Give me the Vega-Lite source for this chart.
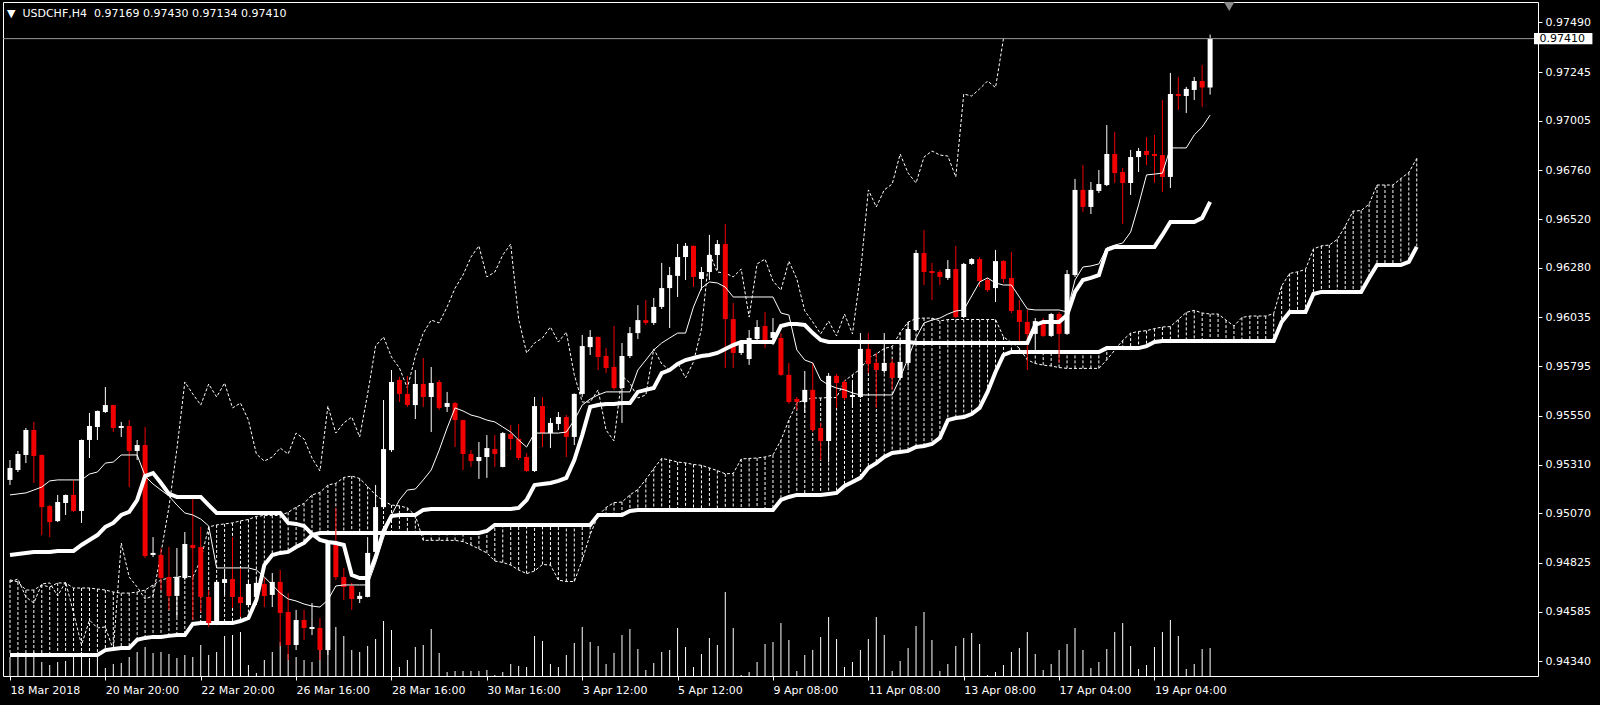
{
  "$schema": "https://vega.github.io/schema/vega-lite/v6.json",
  "width": 1535,
  "height": 674,
  "autosize": "none",
  "padding": {"left": 3, "top": 2, "right": 62, "bottom": 29},
  "background": "#000000",
  "title": {
    "text": "▼\u00a0\u00a0USDCHF,H4\u00a0\u00a00.97169 0.97430 0.97134 0.97410",
    "anchor": "start",
    "orient": "top",
    "offset": -17,
    "dx": 5,
    "color": "#ffffff",
    "font": "DejaVu Sans",
    "fontSize": 11,
    "fontWeight": "normal"
  },
  "config": {
    "view": {"stroke": "#ffffff", "strokeWidth": 1, "fill": "#000000"},
    "axis": {
      "grid": false,
      "domain": false,
      "labelColor": "#ffffff",
      "tickColor": "#ffffff",
      "labelFont": "DejaVu Sans",
      "labelFontSize": 11,
      "labelOverlap": false,
      "tickSize": 4
    }
  },
  "datasets": {
    "bars": [
      {"i":0,"o":0.95234,"h":0.95332,"l":0.95209,"c":0.95293,"v":1900,"t":0.95160,"k":0.94864},
      {"i":1,"o":0.95283,"h":0.95377,"l":0.95273,"c":0.95362,"v":1900,"t":0.95165,"k":0.94869},
      {"i":2,"o":0.95357,"h":0.95490,"l":0.95317,"c":0.95480,"v":1900,"t":0.95170,"k":0.94874},
      {"i":3,"o":0.95480,"h":0.95520,"l":0.95219,"c":0.95352,"v":2400,"t":0.95184,"k":0.94879},
      {"i":4,"o":0.95357,"h":0.95360,"l":0.94962,"c":0.95100,"v":1400,"t":0.95199,"k":0.94879},
      {"i":5,"o":0.95105,"h":0.95110,"l":0.94952,"c":0.95026,"v":1100,"t":0.95229,"k":0.94879},
      {"i":6,"o":0.95031,"h":0.95160,"l":0.95026,"c":0.95125,"v":1400,"t":0.95234,"k":0.94884},
      {"i":7,"o":0.95120,"h":0.95162,"l":0.95061,"c":0.95160,"v":1500,"t":0.95234,"k":0.94884},
      {"i":8,"o":0.95160,"h":0.95234,"l":0.95076,"c":0.95081,"v":2200,"t":0.95234,"k":0.94884},
      {"i":9,"o":0.95081,"h":0.95433,"l":0.95022,"c":0.95431,"v":2400,"t":0.95234,"k":0.94913},
      {"i":10,"o":0.95431,"h":0.95564,"l":0.95342,"c":0.95500,"v":1800,"t":0.95263,"k":0.94938},
      {"i":11,"o":0.95495,"h":0.95576,"l":0.95431,"c":0.95574,"v":2000,"t":0.95273,"k":0.94962},
      {"i":12,"o":0.95569,"h":0.95692,"l":0.95564,"c":0.95603,"v":800,"t":0.95317,"k":0.95002},
      {"i":13,"o":0.95603,"h":0.95605,"l":0.95470,"c":0.95490,"v":1200,"t":0.95322,"k":0.95022},
      {"i":14,"o":0.95490,"h":0.95520,"l":0.95446,"c":0.95500,"v":1300,"t":0.95357,"k":0.95061},
      {"i":15,"o":0.95500,"h":0.95529,"l":0.95199,"c":0.95377,"v":1900,"t":0.95357,"k":0.95076},
      {"i":16,"o":0.95377,"h":0.95431,"l":0.95332,"c":0.95406,"v":2400,"t":0.95357,"k":0.95135},
      {"i":17,"o":0.95406,"h":0.95495,"l":0.94849,"c":0.94859,"v":2900,"t":0.95253,"k":0.95253},
      {"i":18,"o":0.94864,"h":0.94952,"l":0.94854,"c":0.94874,"v":2300,"t":0.95214,"k":0.95268},
      {"i":19,"o":0.94864,"h":0.94898,"l":0.94691,"c":0.94750,"v":2400,"t":0.95184,"k":0.95219},
      {"i":20,"o":0.94755,"h":0.94903,"l":0.94593,"c":0.94662,"v":2200,"t":0.95155,"k":0.95165},
      {"i":21,"o":0.94662,"h":0.94898,"l":0.94558,"c":0.94755,"v":1800,"t":0.95110,"k":0.95150},
      {"i":22,"o":0.94750,"h":0.94977,"l":0.94741,"c":0.94918,"v":2100,"t":0.95071,"k":0.95150},
      {"i":23,"o":0.94913,"h":0.95150,"l":0.94543,"c":0.94898,"v":1900,"t":0.95061,"k":0.95150},
      {"i":24,"o":0.94903,"h":0.95002,"l":0.94583,"c":0.94657,"v":3100,"t":0.95041,"k":0.95150},
      {"i":25,"o":0.94657,"h":0.94691,"l":0.94509,"c":0.94528,"v":2100,"t":0.95007,"k":0.95110},
      {"i":26,"o":0.94533,"h":0.94741,"l":0.94518,"c":0.94731,"v":2400,"t":0.94800,"k":0.95071},
      {"i":27,"o":0.94726,"h":0.94790,"l":0.94667,"c":0.94745,"v":4000,"t":0.94800,"k":0.95071},
      {"i":28,"o":0.94745,"h":0.94952,"l":0.94602,"c":0.94657,"v":4100,"t":0.94800,"k":0.95071},
      {"i":29,"o":0.94657,"h":0.94800,"l":0.94558,"c":0.94627,"v":4400,"t":0.94800,"k":0.95071},
      {"i":30,"o":0.94617,"h":0.94741,"l":0.94607,"c":0.94721,"v":1100,"t":0.94800,"k":0.95071},
      {"i":31,"o":0.94657,"h":0.94755,"l":0.94617,"c":0.94726,"v":300,"t":0.94790,"k":0.95071},
      {"i":32,"o":0.94721,"h":0.94750,"l":0.94607,"c":0.94662,"v":1600,"t":0.94755,"k":0.95071},
      {"i":33,"o":0.94667,"h":0.94775,"l":0.94607,"c":0.94731,"v":2400,"t":0.94716,"k":0.95071},
      {"i":34,"o":0.94731,"h":0.94790,"l":0.94415,"c":0.94578,"v":3400,"t":0.94676,"k":0.95071},
      {"i":35,"o":0.94583,"h":0.94676,"l":0.94346,"c":0.94420,"v":2200,"t":0.94647,"k":0.95022},
      {"i":36,"o":0.94420,"h":0.94593,"l":0.94395,"c":0.94543,"v":1900,"t":0.94637,"k":0.95017},
      {"i":37,"o":0.94543,"h":0.94593,"l":0.94445,"c":0.94504,"v":1600,"t":0.94622,"k":0.95007},
      {"i":38,"o":0.94499,"h":0.94627,"l":0.94469,"c":0.94509,"v":1400,"t":0.94612,"k":0.94967},
      {"i":39,"o":0.94504,"h":0.94553,"l":0.94346,"c":0.94395,"v":3300,"t":0.94607,"k":0.94938},
      {"i":40,"o":0.94395,"h":0.94926,"l":0.94371,"c":0.94923,"v":5100,"t":0.94642,"k":0.94928},
      {"i":41,"o":0.94923,"h":0.95096,"l":0.94741,"c":0.94755,"v":4900,"t":0.94711,"k":0.94923},
      {"i":42,"o":0.94755,"h":0.94800,"l":0.94642,"c":0.94706,"v":4000,"t":0.94716,"k":0.94913},
      {"i":43,"o":0.94711,"h":0.94726,"l":0.94593,"c":0.94647,"v":2600,"t":0.94716,"k":0.94765},
      {"i":44,"o":0.94647,"h":0.94681,"l":0.94627,"c":0.94662,"v":2400,"t":0.94716,"k":0.94750},
      {"i":45,"o":0.94657,"h":0.94952,"l":0.94655,"c":0.94874,"v":3000,"t":0.94716,"k":0.94750},
      {"i":46,"o":0.94879,"h":0.95209,"l":0.94864,"c":0.95100,"v":3700,"t":0.94824,"k":0.94854},
      {"i":47,"o":0.95100,"h":0.95628,"l":0.95096,"c":0.95386,"v":5500,"t":0.94948,"k":0.94982},
      {"i":48,"o":0.95381,"h":0.95776,"l":0.95372,"c":0.95717,"v":4600,"t":0.95061,"k":0.95056},
      {"i":49,"o":0.95727,"h":0.95742,"l":0.95618,"c":0.95658,"v":900,"t":0.95135,"k":0.95061},
      {"i":50,"o":0.95658,"h":0.95747,"l":0.95594,"c":0.95603,"v":1600,"t":0.95184,"k":0.95061},
      {"i":51,"o":0.95603,"h":0.95776,"l":0.95534,"c":0.95707,"v":2900,"t":0.95189,"k":0.95061},
      {"i":52,"o":0.95707,"h":0.95835,"l":0.95594,"c":0.95643,"v":3100,"t":0.95234,"k":0.95086},
      {"i":53,"o":0.95643,"h":0.95791,"l":0.95470,"c":0.95712,"v":4700,"t":0.95283,"k":0.95091},
      {"i":54,"o":0.95717,"h":0.95727,"l":0.95579,"c":0.95589,"v":2300,"t":0.95381,"k":0.95091},
      {"i":55,"o":0.95594,"h":0.95668,"l":0.95569,"c":0.95613,"v":400,"t":0.95490,"k":0.95091},
      {"i":56,"o":0.95613,"h":0.95618,"l":0.95396,"c":0.95529,"v":500,"t":0.95589,"k":0.95091},
      {"i":57,"o":0.95529,"h":0.95531,"l":0.95283,"c":0.95362,"v":500,"t":0.95574,"k":0.95091},
      {"i":58,"o":0.95362,"h":0.95381,"l":0.95298,"c":0.95327,"v":500,"t":0.95554,"k":0.95091},
      {"i":59,"o":0.95327,"h":0.95421,"l":0.95239,"c":0.95347,"v":500,"t":0.95544,"k":0.95091},
      {"i":60,"o":0.95347,"h":0.95455,"l":0.95244,"c":0.95391,"v":600,"t":0.95529,"k":0.95091},
      {"i":61,"o":0.95386,"h":0.95455,"l":0.95298,"c":0.95362,"v":100,"t":0.95520,"k":0.95091},
      {"i":62,"o":0.95298,"h":0.95470,"l":0.95296,"c":0.95465,"v":400,"t":0.95495,"k":0.95091},
      {"i":63,"o":0.95460,"h":0.95505,"l":0.95381,"c":0.95436,"v":1200,"t":0.95470,"k":0.95091},
      {"i":64,"o":0.95436,"h":0.95510,"l":0.95332,"c":0.95342,"v":1000,"t":0.95431,"k":0.95096},
      {"i":65,"o":0.95347,"h":0.95367,"l":0.95273,"c":0.95278,"v":900,"t":0.95396,"k":0.95135},
      {"i":66,"o":0.95278,"h":0.95643,"l":0.95273,"c":0.95598,"v":4000,"t":0.95465,"k":0.95209},
      {"i":67,"o":0.95598,"h":0.95643,"l":0.95396,"c":0.95465,"v":3500,"t":0.95465,"k":0.95214},
      {"i":68,"o":0.95465,"h":0.95539,"l":0.95391,"c":0.95515,"v":1200,"t":0.95465,"k":0.95219},
      {"i":69,"o":0.95510,"h":0.95569,"l":0.95480,"c":0.95544,"v":900,"t":0.95465,"k":0.95229},
      {"i":70,"o":0.95544,"h":0.95554,"l":0.95347,"c":0.95446,"v":2100,"t":0.95470,"k":0.95244},
      {"i":71,"o":0.95446,"h":0.95660,"l":0.95406,"c":0.95658,"v":3300,"t":0.95529,"k":0.95332},
      {"i":72,"o":0.95658,"h":0.95949,"l":0.95643,"c":0.95894,"v":4900,"t":0.95603,"k":0.95455},
      {"i":73,"o":0.95889,"h":0.95973,"l":0.95850,"c":0.95939,"v":3400,"t":0.95633,"k":0.95594},
      {"i":74,"o":0.95939,"h":0.95941,"l":0.95776,"c":0.95840,"v":3000,"t":0.95653,"k":0.95603},
      {"i":75,"o":0.95845,"h":0.95884,"l":0.95761,"c":0.95786,"v":1200,"t":0.95668,"k":0.95608},
      {"i":76,"o":0.95791,"h":0.95993,"l":0.95678,"c":0.95687,"v":2300,"t":0.95668,"k":0.95608},
      {"i":77,"o":0.95687,"h":0.95909,"l":0.95515,"c":0.95845,"v":4100,"t":0.95668,"k":0.95613},
      {"i":78,"o":0.95845,"h":0.95988,"l":0.95835,"c":0.95958,"v":4700,"t":0.95668,"k":0.95613},
      {"i":79,"o":0.95958,"h":0.96096,"l":0.95929,"c":0.96022,"v":2700,"t":0.95776,"k":0.95668},
      {"i":80,"o":0.96022,"h":0.96121,"l":0.95998,"c":0.96008,"v":600,"t":0.95825,"k":0.95678},
      {"i":81,"o":0.96008,"h":0.96131,"l":0.95998,"c":0.96087,"v":1300,"t":0.95875,"k":0.95687},
      {"i":82,"o":0.96087,"h":0.96304,"l":0.96077,"c":0.96180,"v":2400,"t":0.95909,"k":0.95761},
      {"i":83,"o":0.96180,"h":0.96284,"l":0.95983,"c":0.96244,"v":2600,"t":0.95934,"k":0.95776},
      {"i":84,"o":0.96240,"h":0.96397,"l":0.96136,"c":0.96333,"v":4800,"t":0.95958,"k":0.95806},
      {"i":85,"o":0.96333,"h":0.96402,"l":0.96220,"c":0.96388,"v":2900,"t":0.95958,"k":0.95825},
      {"i":86,"o":0.96388,"h":0.96390,"l":0.96185,"c":0.96235,"v":900,"t":0.96087,"k":0.95835},
      {"i":87,"o":0.96225,"h":0.96284,"l":0.96170,"c":0.96259,"v":2200,"t":0.96180,"k":0.95845},
      {"i":88,"o":0.96259,"h":0.96442,"l":0.96220,"c":0.96343,"v":3800,"t":0.96210,"k":0.95850},
      {"i":89,"o":0.96343,"h":0.96417,"l":0.96269,"c":0.96397,"v":3100,"t":0.96205,"k":0.95860},
      {"i":90,"o":0.96397,"h":0.96496,"l":0.95786,"c":0.96027,"v":8400,"t":0.96185,"k":0.95880},
      {"i":91,"o":0.96027,"h":0.96106,"l":0.95786,"c":0.95860,"v":4800,"t":0.96136,"k":0.95899},
      {"i":92,"o":0.95860,"h":0.95924,"l":0.95850,"c":0.95909,"v":100,"t":0.96136,"k":0.95914},
      {"i":93,"o":0.95830,"h":0.95973,"l":0.95801,"c":0.95934,"v":400,"t":0.96136,"k":0.95914},
      {"i":94,"o":0.95929,"h":0.96022,"l":0.95924,"c":0.95988,"v":1400,"t":0.96136,"k":0.95914},
      {"i":95,"o":0.95993,"h":0.96062,"l":0.95884,"c":0.95914,"v":3200,"t":0.96136,"k":0.95914},
      {"i":96,"o":0.95934,"h":0.96032,"l":0.95899,"c":0.95963,"v":3400,"t":0.96136,"k":0.95914},
      {"i":97,"o":0.95934,"h":0.95958,"l":0.95747,"c":0.95752,"v":5300,"t":0.96057,"k":0.95993},
      {"i":98,"o":0.95752,"h":0.95811,"l":0.95609,"c":0.95618,"v":3600,"t":0.96047,"k":0.96003},
      {"i":99,"o":0.95633,"h":0.95643,"l":0.95579,"c":0.95618,"v":500,"t":0.95875,"k":0.96003},
      {"i":100,"o":0.95618,"h":0.95771,"l":0.95564,"c":0.95678,"v":2100,"t":0.95825,"k":0.95998},
      {"i":101,"o":0.95678,"h":0.95811,"l":0.95470,"c":0.95480,"v":2600,"t":0.95811,"k":0.95958},
      {"i":102,"o":0.95490,"h":0.95515,"l":0.95332,"c":0.95426,"v":3900,"t":0.95727,"k":0.95924},
      {"i":103,"o":0.95426,"h":0.95761,"l":0.95322,"c":0.95747,"v":5900,"t":0.95702,"k":0.95914},
      {"i":104,"o":0.95747,"h":0.95757,"l":0.95589,"c":0.95712,"v":3700,"t":0.95687,"k":0.95914},
      {"i":105,"o":0.95717,"h":0.95727,"l":0.95628,"c":0.95638,"v":900,"t":0.95678,"k":0.95914},
      {"i":106,"o":0.95643,"h":0.95717,"l":0.95589,"c":0.95653,"v":1400,"t":0.95663,"k":0.95914},
      {"i":107,"o":0.95643,"h":0.95958,"l":0.95638,"c":0.95880,"v":2600,"t":0.95653,"k":0.95914},
      {"i":108,"o":0.95880,"h":0.95958,"l":0.95761,"c":0.95806,"v":3700,"t":0.95653,"k":0.95914},
      {"i":109,"o":0.95811,"h":0.95860,"l":0.95589,"c":0.95776,"v":5900,"t":0.95653,"k":0.95914},
      {"i":110,"o":0.95771,"h":0.95958,"l":0.95761,"c":0.95811,"v":4100,"t":0.95653,"k":0.95914},
      {"i":111,"o":0.95811,"h":0.95830,"l":0.95678,"c":0.95737,"v":500,"t":0.95653,"k":0.95914},
      {"i":112,"o":0.95737,"h":0.95909,"l":0.95732,"c":0.95816,"v":1500,"t":0.95737,"k":0.95914},
      {"i":113,"o":0.95811,"h":0.96013,"l":0.95791,"c":0.95978,"v":2800,"t":0.95835,"k":0.95914},
      {"i":114,"o":0.95973,"h":0.96368,"l":0.95968,"c":0.96353,"v":5000,"t":0.95934,"k":0.95909},
      {"i":115,"o":0.96353,"h":0.96466,"l":0.96195,"c":0.96259,"v":6400,"t":0.96008,"k":0.95909},
      {"i":116,"o":0.96264,"h":0.96304,"l":0.96121,"c":0.96254,"v":3600,"t":0.96022,"k":0.95909},
      {"i":117,"o":0.96259,"h":0.96269,"l":0.96195,"c":0.96235,"v":500,"t":0.96032,"k":0.95909},
      {"i":118,"o":0.96230,"h":0.96318,"l":0.96220,"c":0.96274,"v":1200,"t":0.96052,"k":0.95909},
      {"i":119,"o":0.96274,"h":0.96388,"l":0.96032,"c":0.96037,"v":3000,"t":0.96067,"k":0.95909},
      {"i":120,"o":0.96037,"h":0.96304,"l":0.96032,"c":0.96299,"v":3800,"t":0.96072,"k":0.95909},
      {"i":121,"o":0.96299,"h":0.96328,"l":0.96294,"c":0.96323,"v":4300,"t":0.96141,"k":0.95909},
      {"i":122,"o":0.96323,"h":0.96333,"l":0.96185,"c":0.96215,"v":3200,"t":0.96210,"k":0.95909},
      {"i":123,"o":0.96220,"h":0.96230,"l":0.96161,"c":0.96170,"v":100,"t":0.96230,"k":0.95909},
      {"i":124,"o":0.96180,"h":0.96368,"l":0.96111,"c":0.96313,"v":400,"t":0.96205,"k":0.95909},
      {"i":125,"o":0.96313,"h":0.96318,"l":0.96205,"c":0.96225,"v":1100,"t":0.96195,"k":0.95909},
      {"i":126,"o":0.96230,"h":0.96358,"l":0.96057,"c":0.96067,"v":2400,"t":0.96195,"k":0.95909},
      {"i":127,"o":0.96072,"h":0.96121,"l":0.95914,"c":0.96013,"v":2800,"t":0.96136,"k":0.95909},
      {"i":128,"o":0.96013,"h":0.96072,"l":0.95776,"c":0.95954,"v":4400,"t":0.96077,"k":0.95909},
      {"i":129,"o":0.95954,"h":0.96032,"l":0.95875,"c":0.96017,"v":2200,"t":0.96072,"k":0.95998},
      {"i":130,"o":0.96017,"h":0.96032,"l":0.95939,"c":0.95944,"v":600,"t":0.96072,"k":0.96013},
      {"i":131,"o":0.95944,"h":0.96057,"l":0.95939,"c":0.96052,"v":1200,"t":0.96072,"k":0.96013},
      {"i":132,"o":0.96052,"h":0.96062,"l":0.95811,"c":0.95954,"v":2600,"t":0.96072,"k":0.96013},
      {"i":133,"o":0.95954,"h":0.96269,"l":0.95949,"c":0.96249,"v":3200,"t":0.96062,"k":0.96047},
      {"i":134,"o":0.96244,"h":0.96718,"l":0.96235,"c":0.96664,"v":4800,"t":0.96220,"k":0.96161},
      {"i":135,"o":0.96664,"h":0.96787,"l":0.96555,"c":0.96580,"v":2600,"t":0.96284,"k":0.96220},
      {"i":136,"o":0.96580,"h":0.96703,"l":0.96545,"c":0.96664,"v":800,"t":0.96289,"k":0.96230},
      {"i":137,"o":0.96659,"h":0.96762,"l":0.96649,"c":0.96693,"v":1400,"t":0.96299,"k":0.96244},
      {"i":138,"o":0.96688,"h":0.96984,"l":0.96683,"c":0.96841,"v":2700,"t":0.96378,"k":0.96368},
      {"i":139,"o":0.96841,"h":0.96950,"l":0.96698,"c":0.96747,"v":4400,"t":0.96392,"k":0.96383},
      {"i":140,"o":0.96752,"h":0.96772,"l":0.96496,"c":0.96698,"v":5300,"t":0.96402,"k":0.96383},
      {"i":141,"o":0.96698,"h":0.96861,"l":0.96639,"c":0.96826,"v":3000,"t":0.96456,"k":0.96383},
      {"i":142,"o":0.96826,"h":0.96871,"l":0.96752,"c":0.96856,"v":700,"t":0.96590,"k":0.96383},
      {"i":143,"o":0.96856,"h":0.96925,"l":0.96787,"c":0.96836,"v":1100,"t":0.96738,"k":0.96383},
      {"i":144,"o":0.96841,"h":0.96935,"l":0.96698,"c":0.96831,"v":2900,"t":0.96742,"k":0.96383},
      {"i":145,"o":0.96836,"h":0.97107,"l":0.96654,"c":0.96728,"v":4400,"t":0.96747,"k":0.96442},
      {"i":146,"o":0.96728,"h":0.97241,"l":0.96673,"c":0.97137,"v":5600,"t":0.96871,"k":0.96506},
      {"i":147,"o":0.97137,"h":0.97221,"l":0.97058,"c":0.97127,"v":4000,"t":0.96871,"k":0.96506},
      {"i":148,"o":0.97127,"h":0.97172,"l":0.97043,"c":0.97162,"v":700,"t":0.96871,"k":0.96506},
      {"i":149,"o":0.97157,"h":0.97221,"l":0.97107,"c":0.97201,"v":1200,"t":0.96935,"k":0.96506},
      {"i":150,"o":0.97201,"h":0.97280,"l":0.97073,"c":0.97169,"v":2700,"t":0.96974,"k":0.96526},
      {"i":151,"o":0.97169,"h":0.97430,"l":0.97134,"c":0.97410,"v":2800,"t":0.97033,"k":0.96605}
    ],
    "chikou": [
      {"i":0,"p":0.94731},{"i":1,"p":0.94745},{"i":2,"p":0.94657},{"i":3,"p":0.94627},{"i":4,"p":0.94721},
      {"i":5,"p":0.94726},{"i":6,"p":0.94662},{"i":7,"p":0.94731},{"i":8,"p":0.94578},{"i":9,"p":0.94420},
      {"i":10,"p":0.94543},{"i":11,"p":0.94504},{"i":12,"p":0.94509},{"i":13,"p":0.94395},{"i":14,"p":0.94923},
      {"i":15,"p":0.94755},{"i":16,"p":0.94706},{"i":17,"p":0.94647},{"i":18,"p":0.94662},{"i":19,"p":0.94874},
      {"i":20,"p":0.95100},{"i":21,"p":0.95386},{"i":22,"p":0.95717},{"i":23,"p":0.95658},{"i":24,"p":0.95603},
      {"i":25,"p":0.95707},{"i":26,"p":0.95643},{"i":27,"p":0.95712},{"i":28,"p":0.95589},{"i":29,"p":0.95613},
      {"i":30,"p":0.95529},{"i":31,"p":0.95362},{"i":32,"p":0.95327},{"i":33,"p":0.95347},{"i":34,"p":0.95391},
      {"i":35,"p":0.95362},{"i":36,"p":0.95465},{"i":37,"p":0.95436},{"i":38,"p":0.95342},{"i":39,"p":0.95278},
      {"i":40,"p":0.95598},{"i":41,"p":0.95465},{"i":42,"p":0.95515},{"i":43,"p":0.95544},{"i":44,"p":0.95446},
      {"i":45,"p":0.95658},{"i":46,"p":0.95894},{"i":47,"p":0.95939},{"i":48,"p":0.95840},{"i":49,"p":0.95786},
      {"i":50,"p":0.95687},{"i":51,"p":0.95845},{"i":52,"p":0.95958},{"i":53,"p":0.96022},{"i":54,"p":0.96008},
      {"i":55,"p":0.96087},{"i":56,"p":0.96180},{"i":57,"p":0.96244},{"i":58,"p":0.96333},{"i":59,"p":0.96388},
      {"i":60,"p":0.96235},{"i":61,"p":0.96259},{"i":62,"p":0.96343},{"i":63,"p":0.96397},{"i":64,"p":0.96027},
      {"i":65,"p":0.95860},{"i":66,"p":0.95909},{"i":67,"p":0.95934},{"i":68,"p":0.95988},{"i":69,"p":0.95914},
      {"i":70,"p":0.95963},{"i":71,"p":0.95752},{"i":72,"p":0.95618},{"i":73,"p":0.95618},{"i":74,"p":0.95678},
      {"i":75,"p":0.95480},{"i":76,"p":0.95426},{"i":77,"p":0.95747},{"i":78,"p":0.95712},{"i":79,"p":0.95638},
      {"i":80,"p":0.95653},{"i":81,"p":0.95880},{"i":82,"p":0.95806},{"i":83,"p":0.95776},{"i":84,"p":0.95811},
      {"i":85,"p":0.95737},{"i":86,"p":0.95816},{"i":87,"p":0.95978},{"i":88,"p":0.96353},{"i":89,"p":0.96259},
      {"i":90,"p":0.96254},{"i":91,"p":0.96235},{"i":92,"p":0.96274},{"i":93,"p":0.96037},{"i":94,"p":0.96299},
      {"i":95,"p":0.96323},{"i":96,"p":0.96215},{"i":97,"p":0.96170},{"i":98,"p":0.96313},{"i":99,"p":0.96225},
      {"i":100,"p":0.96067},{"i":101,"p":0.96013},{"i":102,"p":0.95954},{"i":103,"p":0.96017},{"i":104,"p":0.95944},
      {"i":105,"p":0.96052},{"i":106,"p":0.95954},{"i":107,"p":0.96249},{"i":108,"p":0.96664},{"i":109,"p":0.96580},
      {"i":110,"p":0.96664},{"i":111,"p":0.96693},{"i":112,"p":0.96841},{"i":113,"p":0.96747},{"i":114,"p":0.96698},
      {"i":115,"p":0.96826},{"i":116,"p":0.96856},{"i":117,"p":0.96836},{"i":118,"p":0.96831},{"i":119,"p":0.96728},
      {"i":120,"p":0.97137},{"i":121,"p":0.97127},{"i":122,"p":0.97162},{"i":123,"p":0.97201},{"i":124,"p":0.97169},
      {"i":125,"p":0.97410}
    ],
    "cloud": [
      {"i":0,"a":0.94741,"b":0.94371},{"i":1,"a":0.94731,"b":0.94371},{"i":2,"a":0.94691,"b":0.94371},
      {"i":3,"a":0.94691,"b":0.94371},{"i":4,"a":0.94716,"b":0.94371},{"i":5,"a":0.94706,"b":0.94371},
      {"i":6,"a":0.94726,"b":0.94371},{"i":7,"a":0.94726,"b":0.94371},{"i":8,"a":0.94701,"b":0.94371},
      {"i":9,"a":0.94701,"b":0.94371},{"i":10,"a":0.94701,"b":0.94371},{"i":11,"a":0.94696,"b":0.94371},
      {"i":12,"a":0.94691,"b":0.94395},{"i":13,"a":0.94681,"b":0.94400},{"i":14,"a":0.94676,"b":0.94405},
      {"i":15,"a":0.94676,"b":0.94405},{"i":16,"a":0.94681,"b":0.94445},{"i":17,"a":0.94691,"b":0.94455},
      {"i":18,"a":0.94716,"b":0.94460},{"i":19,"a":0.94741,"b":0.94460},{"i":20,"a":0.94750,"b":0.94465},
      {"i":21,"a":0.94755,"b":0.94469},{"i":22,"a":0.94760,"b":0.94469},{"i":23,"a":0.94755,"b":0.94524},
      {"i":24,"a":0.94839,"b":0.94528},{"i":25,"a":0.95002,"b":0.94528},{"i":26,"a":0.95012,"b":0.94528},
      {"i":27,"a":0.95017,"b":0.94528},{"i":28,"a":0.95022,"b":0.94528},{"i":29,"a":0.95032,"b":0.94538},
      {"i":30,"a":0.95039,"b":0.94553},{"i":31,"a":0.95054,"b":0.94642},{"i":32,"a":0.95059,"b":0.94814},
      {"i":33,"a":0.95059,"b":0.94864},{"i":34,"a":0.95059,"b":0.94874},{"i":35,"a":0.95074,"b":0.94879},
      {"i":36,"a":0.95100,"b":0.94903},{"i":37,"a":0.95118,"b":0.94923},{"i":38,"a":0.95160,"b":0.94962},
      {"i":39,"a":0.95172,"b":0.94972},{"i":40,"a":0.95209,"b":0.94972},{"i":41,"a":0.95217,"b":0.94972},
      {"i":42,"a":0.95246,"b":0.94972},{"i":43,"a":0.95253,"b":0.94972},{"i":44,"a":0.95241,"b":0.94972},
      {"i":45,"a":0.95202,"b":0.94972},{"i":46,"a":0.95160,"b":0.94972},{"i":47,"a":0.95130,"b":0.94972},
      {"i":48,"a":0.95110,"b":0.94972},{"i":49,"a":0.95106,"b":0.94972},{"i":50,"a":0.95096,"b":0.94972},
      {"i":51,"a":0.95058,"b":0.94972},{"i":52,"a":0.94936,"b":0.94972},{"i":53,"a":0.94936,"b":0.94972},
      {"i":54,"a":0.94936,"b":0.94972},{"i":55,"a":0.94936,"b":0.94972},{"i":56,"a":0.94936,"b":0.94972},
      {"i":57,"a":0.94930,"b":0.94972},{"i":58,"a":0.94913,"b":0.94972},{"i":59,"a":0.94894,"b":0.94972},
      {"i":60,"a":0.94874,"b":0.94982},{"i":61,"a":0.94834,"b":0.95012},{"i":62,"a":0.94827,"b":0.95012},
      {"i":63,"a":0.94814,"b":0.95012},{"i":64,"a":0.94790,"b":0.95012},{"i":65,"a":0.94772,"b":0.95012},
      {"i":66,"a":0.94785,"b":0.95012},{"i":67,"a":0.94817,"b":0.95012},{"i":68,"a":0.94814,"b":0.95012},
      {"i":69,"a":0.94740,"b":0.95012},{"i":70,"a":0.94733,"b":0.95012},{"i":71,"a":0.94733,"b":0.95012},
      {"i":72,"a":0.94839,"b":0.95012},{"i":73,"a":0.94965,"b":0.95012},{"i":74,"a":0.95058,"b":0.95061},
      {"i":75,"a":0.95098,"b":0.95061},{"i":76,"a":0.95122,"b":0.95061},{"i":77,"a":0.95125,"b":0.95061},
      {"i":78,"a":0.95160,"b":0.95081},{"i":79,"a":0.95187,"b":0.95086},{"i":80,"a":0.95236,"b":0.95086},
      {"i":81,"a":0.95290,"b":0.95086},{"i":82,"a":0.95340,"b":0.95086},{"i":83,"a":0.95332,"b":0.95086},
      {"i":84,"a":0.95322,"b":0.95086},{"i":85,"a":0.95318,"b":0.95086},{"i":86,"a":0.95310,"b":0.95086},
      {"i":87,"a":0.95306,"b":0.95086},{"i":88,"a":0.95293,"b":0.95086},{"i":89,"a":0.95280,"b":0.95086},
      {"i":90,"a":0.95264,"b":0.95086},{"i":91,"a":0.95266,"b":0.95086},{"i":92,"a":0.95337,"b":0.95086},
      {"i":93,"a":0.95340,"b":0.95086},{"i":94,"a":0.95342,"b":0.95086},{"i":95,"a":0.95347,"b":0.95086},
      {"i":96,"a":0.95357,"b":0.95086},{"i":97,"a":0.95430,"b":0.95135},{"i":98,"a":0.95529,"b":0.95150},
      {"i":99,"a":0.95614,"b":0.95160},{"i":100,"a":0.95628,"b":0.95160},{"i":101,"a":0.95638,"b":0.95160},
      {"i":102,"a":0.95638,"b":0.95160},{"i":103,"a":0.95640,"b":0.95165},{"i":104,"a":0.95640,"b":0.95170},
      {"i":105,"a":0.95722,"b":0.95204},{"i":106,"a":0.95752,"b":0.95224},{"i":107,"a":0.95781,"b":0.95244},
      {"i":108,"a":0.95835,"b":0.95293},{"i":109,"a":0.95855,"b":0.95317},{"i":110,"a":0.95882,"b":0.95347},
      {"i":111,"a":0.95892,"b":0.95367},{"i":112,"a":0.95961,"b":0.95372},{"i":113,"a":0.96012,"b":0.95377},
      {"i":114,"a":0.96030,"b":0.95396},{"i":115,"a":0.96032,"b":0.95401},{"i":116,"a":0.96032,"b":0.95411},
      {"i":117,"a":0.96018,"b":0.95441},{"i":118,"a":0.96025,"b":0.95529},{"i":119,"a":0.96025,"b":0.95539},
      {"i":120,"a":0.96025,"b":0.95544},{"i":121,"a":0.96025,"b":0.95559},{"i":122,"a":0.96025,"b":0.95589},
      {"i":123,"a":0.96025,"b":0.95668},{"i":124,"a":0.96025,"b":0.95766},{"i":125,"a":0.95939,"b":0.95850},
      {"i":126,"a":0.95912,"b":0.95865},{"i":127,"a":0.95884,"b":0.95865},{"i":128,"a":0.95826,"b":0.95865},
      {"i":129,"a":0.95808,"b":0.95865},{"i":130,"a":0.95800,"b":0.95865},{"i":131,"a":0.95796,"b":0.95865},
      {"i":132,"a":0.95788,"b":0.95865},{"i":133,"a":0.95784,"b":0.95865},{"i":134,"a":0.95784,"b":0.95865},
      {"i":135,"a":0.95784,"b":0.95865},{"i":136,"a":0.95784,"b":0.95865},{"i":137,"a":0.95784,"b":0.95865},
      {"i":138,"a":0.95826,"b":0.95884},{"i":139,"a":0.95874,"b":0.95884},{"i":140,"a":0.95922,"b":0.95884},
      {"i":141,"a":0.95958,"b":0.95884},{"i":142,"a":0.95966,"b":0.95884},{"i":143,"a":0.95970,"b":0.95894},
      {"i":144,"a":0.95980,"b":0.95914},{"i":145,"a":0.95988,"b":0.95919},{"i":146,"a":0.95990,"b":0.95919},
      {"i":147,"a":0.96025,"b":0.95919},{"i":148,"a":0.96060,"b":0.95919},{"i":149,"a":0.96070,"b":0.95919},
      {"i":150,"a":0.96057,"b":0.95919},{"i":151,"a":0.96052,"b":0.95919},{"i":152,"a":0.96052,"b":0.95919},
      {"i":153,"a":0.96022,"b":0.95919},{"i":154,"a":0.95993,"b":0.95919},{"i":155,"a":0.96035,"b":0.95919},
      {"i":156,"a":0.96042,"b":0.95919},{"i":157,"a":0.96042,"b":0.95919},{"i":158,"a":0.96042,"b":0.95919},
      {"i":159,"a":0.96054,"b":0.95919},{"i":160,"a":0.96190,"b":0.96013},{"i":161,"a":0.96252,"b":0.96062},
      {"i":162,"a":0.96260,"b":0.96062},{"i":163,"a":0.96272,"b":0.96062},{"i":164,"a":0.96373,"b":0.96151},
      {"i":165,"a":0.96388,"b":0.96161},{"i":166,"a":0.96392,"b":0.96161},{"i":167,"a":0.96420,"b":0.96161},
      {"i":168,"a":0.96486,"b":0.96161},{"i":169,"a":0.96560,"b":0.96161},{"i":170,"a":0.96562,"b":0.96161},
      {"i":171,"a":0.96594,"b":0.96230},{"i":172,"a":0.96688,"b":0.96294},{"i":173,"a":0.96688,"b":0.96294},
      {"i":174,"a":0.96688,"b":0.96294},{"i":175,"a":0.96720,"b":0.96294},{"i":176,"a":0.96750,"b":0.96309},
      {"i":177,"a":0.96819,"b":0.96383}
    ]
  },
  "layer": [
    {
      "data": {"name": "bars"},
      "mark": {"type": "rule", "color": "#ffffff", "strokeWidth": 1},
      "encoding": {
        "x": {
          "field": "i",
          "type": "quantitative",
          "scale": {"domain": [-0.25, 191.625], "nice": false, "zero": false},
          "axis": {
            "orient": "bottom",
            "title": null,
            "values": [0, 12, 24, 36, 48, 60, 72, 84, 96, 108, 120, 132, 144],
            "labelExpr": "['18 Mar 2018','20 Mar 20:00','22 Mar 20:00','26 Mar 16:00','28 Mar 16:00','30 Mar 16:00','3 Apr 12:00','5 Apr 12:00','9 Apr 08:00','11 Apr 08:00','13 Apr 08:00','17 Apr 04:00','19 Apr 04:00'][round(datum.value / 12)]",
            "labelAlign": "left",
            "labelFlush": false,
            "labelPadding": 4
          }
        },
        "y": {"field": "v", "type": "quantitative", "scale": {"domain": [0, 67400]}, "axis": null},
        "y2": {"datum": 0}
      }
    },
    {
      "layer": [
        {
          "data": {"name": "cloud"},
          "mark": {"type": "rule", "color": "#ffffff", "strokeWidth": 1, "strokeDash": [3, 2]},
          "encoding": {
            "x": {"field": "i", "type": "quantitative"},
            "y": {
              "field": "a",
              "type": "quantitative",
              "scale": {"domain": [0.942671, 0.975906], "nice": false, "zero": false},
              "axis": {
                "orient": "right",
                "title": null,
                "values": [0.9749, 0.97245, 0.97005, 0.9676, 0.9652, 0.9628, 0.96035, 0.95795, 0.9555, 0.9531, 0.9507, 0.94825, 0.94585, 0.9434],
                "format": ".5f",
                "labelPadding": 3
              }
            },
            "y2": {"field": "b"}
          }
        },
        {
          "data": {"name": "cloud"},
          "mark": {"type": "line", "color": "#ffffff", "strokeWidth": 1, "strokeDash": [3, 2]},
          "encoding": {
            "x": {"field": "i", "type": "quantitative"},
            "y": {"field": "a", "type": "quantitative"}
          }
        },
        {
          "data": {"name": "cloud"},
          "mark": {"type": "line", "color": "#ffffff", "strokeWidth": 4},
          "encoding": {
            "x": {"field": "i", "type": "quantitative"},
            "y": {"field": "b", "type": "quantitative"}
          }
        },
        {
          "data": {"name": "chikou"},
          "mark": {"type": "line", "color": "#ffffff", "strokeWidth": 1, "strokeDash": [3, 2]},
          "encoding": {
            "x": {"field": "i", "type": "quantitative"},
            "y": {"field": "p", "type": "quantitative"}
          }
        },
        {
          "data": {"name": "bars"},
          "mark": {"type": "rule", "strokeWidth": 1},
          "encoding": {
            "x": {"field": "i", "type": "quantitative"},
            "y": {"field": "l", "type": "quantitative"},
            "y2": {"field": "h"},
            "color": {"condition": {"test": "datum.c >= datum.o", "value": "#ffffff"}, "value": "#f00000"}
          }
        },
        {
          "data": {"name": "bars"},
          "mark": {"type": "bar", "width": 5},
          "encoding": {
            "x": {"field": "i", "type": "quantitative"},
            "y": {"field": "o", "type": "quantitative"},
            "y2": {"field": "c"},
            "color": {"condition": {"test": "datum.c >= datum.o", "value": "#ffffff"}, "value": "#f00000"}
          }
        },
        {
          "data": {"name": "bars"},
          "mark": {"type": "line", "color": "#ffffff", "strokeWidth": 1},
          "encoding": {
            "x": {"field": "i", "type": "quantitative"},
            "y": {"field": "t", "type": "quantitative"}
          }
        },
        {
          "data": {"name": "bars"},
          "mark": {"type": "line", "color": "#ffffff", "strokeWidth": 4},
          "encoding": {
            "x": {"field": "i", "type": "quantitative"},
            "y": {"field": "k", "type": "quantitative"}
          }
        },
        {
          "data": {"values": [{}]},
          "mark": {"type": "rule", "color": "#9a9a9a", "strokeWidth": 1},
          "encoding": {"y": {"datum": 0.9741}}
        },
        {
          "data": {"values": [{}]},
          "mark": {"type": "rect", "color": "#ffffff"},
          "encoding": {
            "x": {"datum": 191.75},
            "x2": {"datum": 199.1},
            "y": {"datum": 0.97438},
            "y2": {"datum": 0.97382}
          }
        },
        {
          "data": {"values": [{"label": "0.97410"}]},
          "mark": {"type": "text", "color": "#000000", "align": "left", "baseline": "middle", "font": "DejaVu Sans", "fontSize": 11},
          "encoding": {
            "x": {"datum": 192.45},
            "y": {"datum": 0.9741},
            "text": {"field": "label"}
          }
        },
        {
          "data": {"values": [{}]},
          "mark": {"type": "point", "shape": "triangle-down", "filled": true, "color": "#8a8a8a", "size": 110, "opacity": 1},
          "encoding": {
            "x": {"datum": 153.4},
            "y": {"datum": 0.97568}
          }
        }
      ]
    }
  ],
  "resolve": {"scale": {"y": "independent"}}
}
